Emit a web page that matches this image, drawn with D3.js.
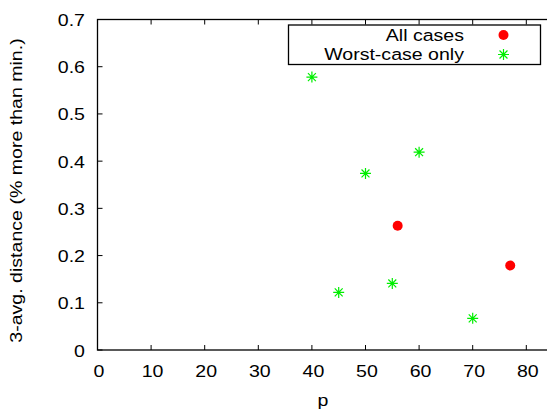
<!DOCTYPE html>
<html>
<head>
<meta charset="utf-8">
<script src="https://cdn.jsdelivr.net/npm/d3@7"></script>
<style>
  body { margin: 0; background: #fff; }
  text { font-family: "Liberation Sans", Arial, sans-serif; fill: #000; font-size: 16.3px; }
</style>
</head>
<body>
<svg id="chart" width="547" height="410"></svg>
<script>
let allP = [56, 77];
let allDist = [0.263, 0.179];
let worstP = [40, 45, 50, 55, 60, 70];
let worstDist = [0.578, 0.122, 0.374, 0.141, 0.419, 0.067];
let xTicks = [0, 10, 20, 30, 40, 50, 60, 70, 80];
let yTicks = [0, 0.1, 0.2, 0.3, 0.4, 0.5, 0.6, 0.7];
let seriesNames = ['All cases', 'Worst-case only'];

let svg = d3.select('#chart');

let plotLeft = 97.5, plotTop = 19.5, plotBottom = 350;
let xScale = d3.scaleLinear().domain([0, 85]).range([plotLeft, plotLeft + 85 * 5.36]);
let yScale = d3.scaleLinear().domain([0, 0.7]).range([plotBottom, plotTop]);
let plotRight = xScale(85);

let axisColor = '#000';
let stretch = 1.2; // the reference font is drawn wider than normal

function label(g, x, y, anchor, str, rot) {
    return g.append('text')
        .attr('transform', 'translate(' + x + ',' + y + ')' + (rot ? ' rotate(' + rot + ')' : '') + ' scale(' + stretch + ',1)')
        .attr('text-anchor', anchor)
        .text(str);
}

// frame (right side falls outside the window)
svg.append('rect')
    .attr('x', plotLeft).attr('y', plotTop)
    .attr('width', plotRight - plotLeft).attr('height', plotBottom - plotTop)
    .attr('fill', 'none').attr('stroke', axisColor).attr('stroke-width', 1.3);

// x ticks, bottom and mirrored top
let xAxis = svg.append('g');
xTicks.forEach(function (t) {
    let x = xScale(t);
    xAxis.append('line').attr('x1', x).attr('x2', x).attr('y1', plotBottom).attr('y2', plotBottom - 5)
        .attr('stroke', axisColor).attr('stroke-width', 1);
    xAxis.append('line').attr('x1', x).attr('x2', x).attr('y1', plotTop).attr('y2', plotTop + 5)
        .attr('stroke', axisColor).attr('stroke-width', 1);
    label(xAxis, x + 1.5, plotBottom + 27, 'middle', t);
});

let yAxis = svg.append('g');
yTicks.forEach(function (t) {
    let y = yScale(t);
    yAxis.append('line').attr('x1', plotLeft).attr('x2', plotLeft + 5).attr('y1', y).attr('y2', y)
        .attr('stroke', axisColor).attr('stroke-width', 1);
    label(yAxis, 85, y + 6.5, 'end', t === 0 ? '0' : t.toFixed(1));
});

label(svg, 323, 405.5, 'middle', 'p');
label(svg, 22, 190.5, 'middle', '3-avg. distance (% more than min.)', -90);

function star(g, x, y, r) {
    let d = 'M' + (x - r) + ',' + y + 'H' + (x + r) +
        'M' + x + ',' + (y - r) + 'V' + (y + r) +
        'M' + (x - r * 0.72) + ',' + (y - r * 0.72) + 'L' + (x + r * 0.72) + ',' + (y + r * 0.72) +
        'M' + (x - r * 0.72) + ',' + (y + r * 0.72) + 'L' + (x + r * 0.72) + ',' + (y - r * 0.72);
    g.append('path').attr('d', d).attr('stroke', '#00ee00').attr('stroke-width', 1.2).attr('fill', 'none');
}

// legend
let legend = svg.append('g');
legend.append('rect').attr('x', 288.5).attr('y', 25).attr('width', 252).attr('height', 39.5)
    .attr('fill', '#fff').attr('stroke', axisColor).attr('stroke-width', 1.3);
label(legend, 464, 40.5, 'end', seriesNames[0]);
label(legend, 464, 59.5, 'end', seriesNames[1]);
legend.append('circle').attr('cx', 503.5).attr('cy', 35).attr('r', 5).attr('fill', '#ff0000');
star(legend, 503.5, 54.5, 5.5);

// points
let pts = svg.append('g');
worstP.forEach(function (p, i) {
    star(pts, xScale(p), yScale(worstDist[i]), 5.5);
});
pts.selectAll('circle')
    .data(allP)
    .enter()
    .append('circle')
    .attr('cx', function (d) { return xScale(d); })
    .attr('cy', function (d, i) { return yScale(allDist[i]); })
    .attr('r', 5)
    .attr('fill', '#ff0000');
</script>
</body>
</html>
